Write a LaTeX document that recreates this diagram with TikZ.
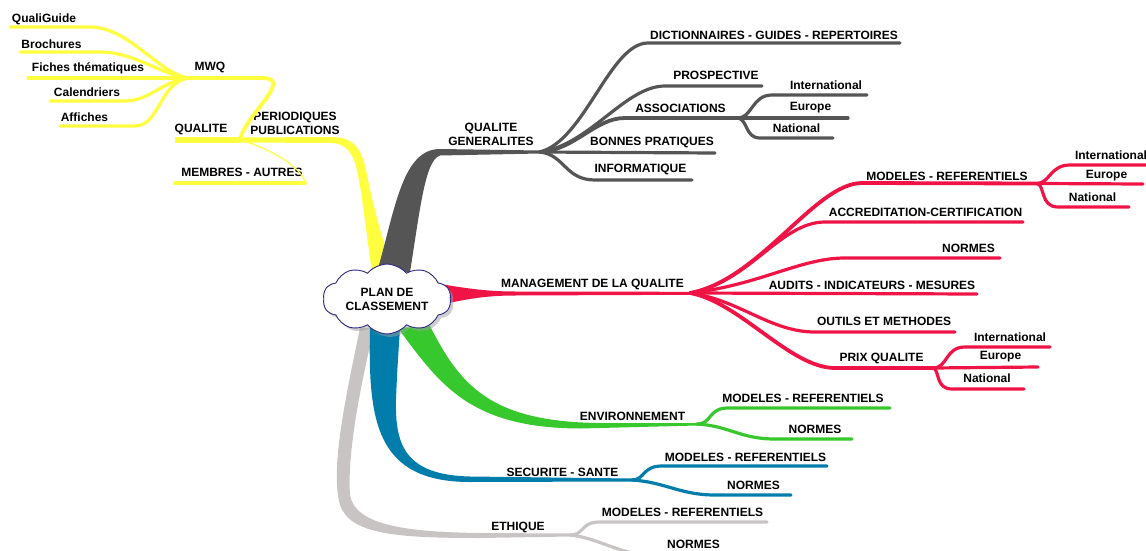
\documentclass[tikz,border=0pt]{standalone}
\usepackage{fontspec}
\setmainfont{Liberation Sans}
\usetikzlibrary{shapes.symbols,shadows,backgrounds}

\definecolor{jaune}{RGB}{255,255,64}
\definecolor{grisfonce}{RGB}{85,85,85}
\definecolor{rouge}{RGB}{240,20,70}
\definecolor{vert}{RGB}{55,200,45}
\definecolor{bleu}{RGB}{0,125,170}
\definecolor{grisclair}{RGB}{200,196,196}
\definecolor{marine}{RGB}{40,40,130}

\begin{document}
\begin{tikzpicture}
        [x=1pt,y=-1pt,every node/.style={font=\fontsize{12}{14}\selectfont\bfseries,inner sep=0,align=center},
         leaf/.style={line width=3.2pt,line cap=round},
         sub/.style={line width=3.8pt,line cap=round}]

        \useasboundingbox (0,0) rectangle (1146,551);

        % centre
        \node[cloud,cloud puffs=10,cloud puff arc=100,aspect=2.1,draw=marine,fill=white,line width=0.9pt,
              minimum width=128,minimum height=60,
              drop shadow={shadow xshift=3pt,shadow yshift=-3pt,fill=gray!75}] (plan) at (387,299) {PLAN DE\\CLASSEMENT};

        % junctions
        \coordinate (pp) at (240,140);
        \coordinate (mwq) at (190,78);
        \coordinate (qg) at (540,152);
        \coordinate (as) at (738,118);
        \coordinate (mq) at (690,293);
        \coordinate (mr) at (1037,183.5);
        \coordinate (pq) at (933,368);
        \coordinate (en) at (697,424);
        \coordinate (ss) at (632,480);
        \coordinate (et) at (570,535);

        % main branches
        \begin{scope}[on background layer]
        \fill[jaune] (372,272) .. controls (366,230) and (362,195) .. (358,175) .. controls (354,155) and (348,143) .. (330,143) -- (240,142.5) -- (240,137.5) -- (330,137) .. controls (356,137) and (362,150) .. (367,175) .. controls (373,205) and (382,240) .. (394,272) -- cycle;
        \fill[grisfonce] (377,272) .. controls (395,210) and (402,149) .. (440,149) -- (540,150.5) -- (540,153.5) -- (440,155.5) .. controls (425,160) and (420,210) .. (410,272) -- cycle;
        \fill[rouge] (440,284) .. controls (470,289) and (490,291.5) .. (515,291.5) -- (690,291.8) -- (690,294.8) -- (515,295.5) .. controls (490,295.5) and (470,298) .. (440,305) -- cycle;
        \fill[grisclair] (360,328) .. controls (345,400) and (330,470) .. (340,505) .. controls (350,535) and (400,538) .. (480,538) -- (570,536.5) -- (570,533.5) -- (480,533) .. controls (405,532) and (355,525) .. (350,495) .. controls (347,450) and (362,380) .. (374,328) -- cycle;
        \fill[bleu] (370,328) .. controls (368,420) and (375,482) .. (470,482) -- (632,481.5) -- (632,478.5) -- (470,476.5) .. controls (405,475) and (395,445) .. (396,400) .. controls (397,370) and (399,345) .. (400,328) -- cycle;
        \fill[vert] (430,326) .. controls (460,385) and (490,422) .. (600,423) -- (697,423) -- (697,425.5) -- (580,428.5) .. controls (470,428) and (440,385) .. (398,328) -- cycle;
        \end{scope}

        % QUALITE side (yellow)
        \node (n-pp) at (295,123) {PERIODIQUES\\PUBLICATIONS};
        \node (n-qu) at (201,129.5) {QUALITE};
        \node (n-mwq) at (210,67.5) {MWQ};
        \node (n-mem) at (242,172) {MEMBRES - AUTRES};
        \node (n-qgu) at (44,19) {QualiGuide};
        \node (n-bro) at (51.5,44.5) {Brochures};
        \node (n-fic) at (88,68.5) {Fiches thématiques};
        \node (n-cal) at (87,92) {Calendriers};
        \node (n-aff) at (84.5,117) {Affiches};

        \draw[line width=5.5pt,jaune] (pp) -- (175,140);
        \draw[sub,jaune] (pp) .. controls (245,115) and (295,78) .. (262,78) -- (mwq);
        \draw[line width=1.2pt,jaune] (pp) .. controls (270,148) and (302,168) .. (305,182);
        \draw[leaf,jaune,line width=3.8pt] (305,183) -- (175,183);
        \draw[leaf,jaune] (mwq) .. controls (160,76) and (130,27) .. (90,27) -- (10,27);
        \draw[leaf,jaune] (mwq) .. controls (165,77) and (135,52) .. (100,52) -- (20,52);
        \draw[leaf,jaune] (mwq) -- (28,78);
        \draw[leaf,jaune] (mwq) .. controls (165,79) and (150,101) .. (125,101) -- (50,101);
        \draw[leaf,jaune] (mwq) .. controls (160,80) and (160,126) .. (135,126) -- (60,126);

        % QUALITE GENERALITES (dark grey)
        \node (n-qg) at (491,134.5) {QUALITE\\GENERALITES};
        \node (n-dic) at (774,35) {DICTIONNAIRES - GUIDES - REPERTOIRES};
        \node (n-pro) at (716,75.5) {PROSPECTIVE};
        \node (n-as) at (680.5,108.5) {ASSOCIATIONS};
        \node (n-asi) at (826,85.5) {International};
        \node (n-ase) at (810.5,108) {Europe};
        \node (n-asn) at (796.5,128) {National};
        \node (n-bp) at (652,142) {BONNES PRATIQUES};
        \node (n-inf) at (640.5,169) {INFORMATIQUE};

        \draw[leaf,grisfonce] (qg) .. controls (585,140) and (610,43) .. (648,43) -- (900,43);
        \draw[leaf,grisfonce] (qg) .. controls (590,145) and (625,86) .. (665,86) -- (762,86);
        \draw[sub,grisfonce] (qg) .. controls (575,150) and (595,118) .. (625,118) -- (as);
        \draw[leaf,grisfonce] (as) .. controls (752,118) and (752,95) .. (772,95) -- (867,95);
        \draw[leaf,grisfonce] (as) -- (848,118);
        \draw[leaf,grisfonce] (as) .. controls (748,120) and (745,138) .. (760,138) -- (833,138);
        \draw[leaf,grisfonce] (qg) -- (715,153);
        \draw[leaf,grisfonce] (qg) .. controls (565,155) and (565,180) .. (595,180) -- (692,180);

        % MANAGEMENT DE LA QUALITE (red)
        \node (n-mq) at (592.5,284.5) {MANAGEMENT DE LA QUALITE};
        \node (n-mr) at (947,176) {MODELES - REFERENTIELS};
        \node (n-mri) at (1111,155.5) {International};
        \node (n-mre) at (1106.5,176) {Europe};
        \node (n-mrn) at (1092.5,197) {National};
        \node (n-acc) at (925.5,212) {ACCREDITATION-CERTIFICATION};
        \node (n-nor) at (968.5,248.5) {NORMES};
        \node (n-aud) at (872,285.5) {AUDITS - INDICATEURS - MESURES};
        \node (n-out) at (884,321.5) {OUTILS ET METHODES};
        \node (n-pq) at (881.5,358) {PRIX QUALITE};
        \node (n-pqi) at (1010,337) {International};
        \node (n-pqe) at (1000.5,357) {Europe};
        \node (n-pqn) at (987,378) {National};

        \draw[sub,rouge] (mq) .. controls (760,280) and (815,183) .. (862,183) -- (mr);
        \draw[leaf,rouge] (mr) .. controls (1050,183) and (1050,165) .. (1070,165) -- (1152,165);
        \draw[leaf,rouge] (mr) -- (1143,184);
        \draw[leaf,rouge] (mr) .. controls (1045,185) and (1040,207) .. (1058,207) -- (1129,207);
        \draw[leaf,rouge] (mq) .. controls (750,282) and (780,222) .. (825,222) -- (1023,222);
        \draw[leaf,rouge] (mq) .. controls (760,285) and (800,258) .. (845,258) -- (1000,258);
        \draw[leaf,rouge] (mq) -- (977,294);
        \draw[leaf,rouge] (mq) .. controls (740,300) and (770,332) .. (815,332) -- (955,332);
        \draw[sub,rouge] (mq) .. controls (740,302) and (790,368) .. (835,368) -- (pq);
        \draw[leaf,rouge] (pq) .. controls (948,368) and (945,347) .. (965,347) -- (1050,347);
        \draw[leaf,rouge] (pq) -- (1038,367);
        \draw[leaf,rouge] (pq) .. controls (940,370) and (935,389) .. (952,389) -- (1024,389);

        % ENVIRONNEMENT (green)
        \node (n-en) at (632.5,416) {ENVIRONNEMENT};
        \node (n-enm) at (803,398) {MODELES - REFERENTIELS};
        \node (n-enn) at (815,429.5) {NORMES};

        \draw[leaf,vert] (en) .. controls (712,424) and (708,408) .. (728,408) -- (890,408);
        \draw[leaf,vert] (en) .. controls (730,426) and (740,439) .. (775,439) -- (852,439);

        % SECURITE - SANTE (blue)
        \node (n-ss) at (562.5,472) {SECURITE - SANTE};
        \node (n-ssm) at (745.5,457) {MODELES - REFERENTIELS};
        \node (n-ssn) at (753.5,485.5) {NORMES};

        \draw[leaf,bleu] (ss) .. controls (645,480) and (642,466) .. (662,466) -- (827,466);
        \draw[leaf,bleu] (ss) .. controls (665,482) and (680,495) .. (715,495) -- (791,495);

        % ETHIQUE (light grey)
        \node (n-et) at (518,527) {ETHIQUE};
        \node (n-etm) at (682.5,512) {MODELES - REFERENTIELS};
        \node (n-etn) at (693.5,544.5) {NORMES};

        \draw[leaf,grisclair] (et) .. controls (585,535) and (580,522) .. (600,522) -- (767,522);
        \draw[leaf,grisclair] (et) .. controls (600,538) and (620,556) .. (660,556) -- (740,556);

      \end{tikzpicture}
\end{document}
